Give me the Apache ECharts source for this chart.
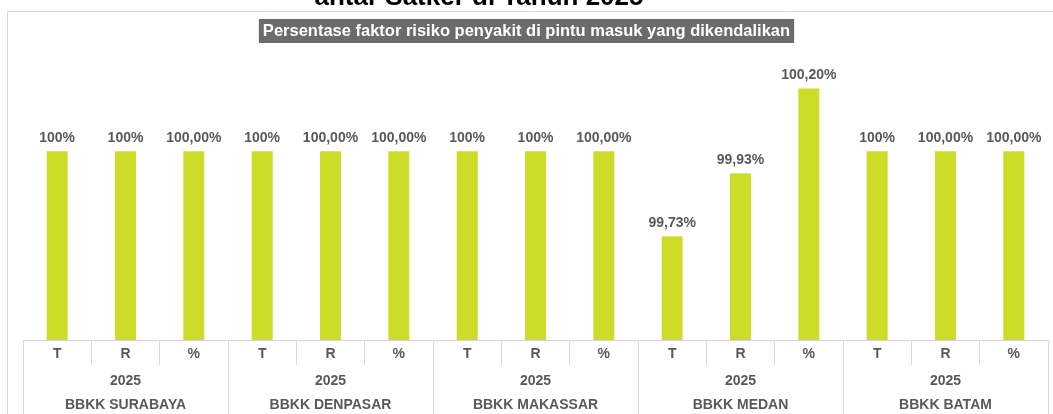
<!DOCTYPE html>
<html>
<head>
<meta charset="utf-8">
<script src="https://cdn.jsdelivr.net/npm/echarts@6/dist/echarts.min.js"></script>
<style>
  html, body { margin: 0; padding: 0; background: #ffffff; }
  #chart { width: 1053px; height: 414px; }
</style>
</head>
<body>
<div id="chart"></div>
<script>
// Units (outer axis row) and measures (inner axis row)
const units = ['BBKK SURABAYA', 'BBKK DENPASAR', 'BBKK MAKASSAR', 'BBKK MEDAN', 'BBKK BATAM'];
const years = ['2025', '2025', '2025', '2025', '2025'];
const measures = ['T', 'R', '%'];

// Percentages per unit: T, R, %
const surabaya = [100, 100, 100];
const denpasar = [100, 100, 100];
const makassar = [100, 100, 100];
const medan = [99.73, 99.93, 100.20];
const batam = [100, 100, 100];

// Decimal places shown in each value label
const surabayaDecimals = [0, 0, 2];
const denpasarDecimals = [0, 2, 2];
const makassarDecimals = [0, 0, 2];
const medanDecimals = [2, 2, 2];
const batamDecimals = [0, 2, 2];

const values = [].concat(surabaya, denpasar, makassar, medan, batam);
const decimals = [].concat(surabayaDecimals, denpasarDecimals, makassarDecimals, medanDecimals, batamDecimals);
const innerLabels = units.flatMap(() => measures);

const fmt = (v, d) => v.toFixed(d).replace('.', ',') + '%';

const GRID = '#d9d9d9';
const TEXT = '#595959';
const FONT = 'Liberation Sans, Arial, sans-serif';

const chart = echarts.init(document.getElementById('chart'));
chart.setOption({
  animation: false,
  backgroundColor: '#ffffff',
  graphic: [
    { type: 'polyline', silent: true,
      shape: { points: [[7.5, 414], [7.5, 11.5], [1053, 11.5]] },
      style: { stroke: GRID, lineWidth: 1, fill: null } },
    { type: 'text', silent: true, x: 479, y: 11,
      style: { text: 'antar Satker di Tahun 2025', font: 'bold 26px ' + FONT,
               fill: '#000000', align: 'center', verticalAlign: 'bottom' } }
  ],
  title: {
    text: 'Persentase faktor risiko penyakit di pintu masuk yang dikendalikan',
    left: 'center', top: 19,
    backgroundColor: '#6b6b6b',
    padding: [3, 4, 3, 4],
    textStyle: { color: '#ffffff', fontSize: 16.5, fontWeight: 'bold',
                 fontFamily: FONT, lineHeight: 18 }
  },
  grid: { left: 23, right: 5, top: 57, bottom: 74 },
  xAxis: [
    {
      type: 'category', data: innerLabels, position: 'bottom',
      axisLine: { show: true, lineStyle: { color: GRID } },
      axisTick: { show: true, interval: 0, length: 25, lineStyle: { color: GRID } },
      axisLabel: { interval: 0, margin: 7, color: TEXT, fontWeight: 'bold', fontSize: 14, fontFamily: FONT }
    },
    {
      type: 'category', data: units, position: 'bottom',
      axisLine: { show: true, lineStyle: { color: GRID } },
      axisTick: { show: true, interval: 0, length: 74, lineStyle: { color: GRID } },
      axisLabel: {
        interval: 0, margin: 29,
        formatter: (name, i) => '{y|' + years[i] + '}\n{n|' + name + '}',
        rich: {
          y: { color: TEXT, fontWeight: 'bold', fontSize: 14, fontFamily: FONT, lineHeight: 24 },
          n: { color: TEXT, fontWeight: 'bold', fontSize: 14, fontFamily: FONT, lineHeight: 24 }
        }
      }
    }
  ],
  yAxis: { type: 'value', min: 99.4, max: 100.3, show: false, splitLine: { show: false } },
  series: [{
    type: 'bar', xAxisIndex: 0, barWidth: 21,
    itemStyle: { color: '#cddc29' },
    data: values.map((v, i) => ({ value: v, label: { formatter: fmt(v, decimals[i]) } })),
    label: { show: true, position: 'top', distance: 6, color: TEXT,
             fontWeight: 'bold', fontSize: 14, fontFamily: FONT }
  }]
});
</script>
</body>
</html>
